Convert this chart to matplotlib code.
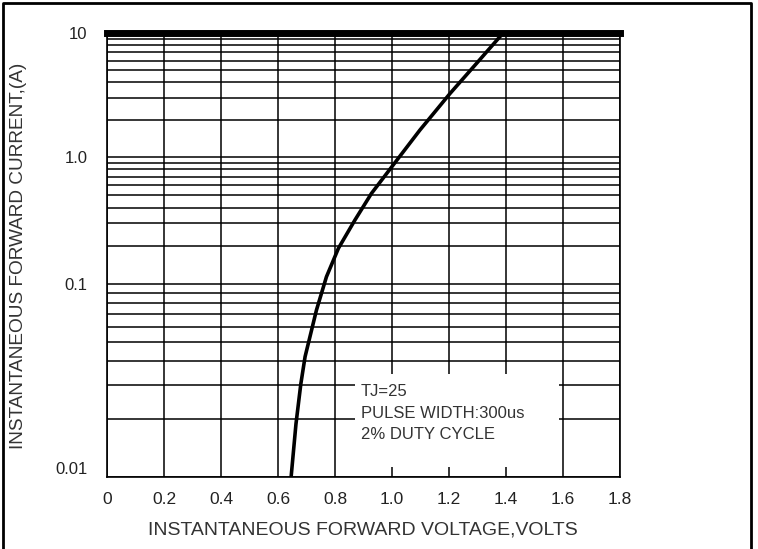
import numpy as np
import matplotlib
matplotlib.use("Agg")
import matplotlib.pyplot as plt
from matplotlib.patches import Rectangle
from matplotlib.ticker import FixedLocator, FixedFormatter, NullFormatter

# ---- data ----
voltage = [0.646, 0.663, 0.680, 0.695, 0.735, 0.770, 0.812, 0.870, 0.928,
           0.998, 1.098, 1.204, 1.297, 1.390]
current = [0.010, 0.0188, 0.0303, 0.042, 0.0733, 0.114, 0.191, 0.319, 0.517,
           0.83, 1.65, 3.26, 5.7, 10.0]

x_ticks = [0, 0.2, 0.4, 0.6, 0.8, 1.0, 1.2, 1.4, 1.6, 1.8]
x_tick_labels = ["0", "0.2", "0.4", "0.6", "0.8", "1.0", "1.2", "1.4", "1.6", "1.8"]
y_ticks = [0.01, 0.1, 1.0, 10.0]
y_tick_labels = ["0.01", "0.1", "1.0", "10"]
note_lines = ["TJ=25", "PULSE WIDTH:300us", "2% DUTY CYCLE"]

# decade heights of the printed log paper (it is not uniform)
dec_log = [-2, -1, 0, 1]
dec_pos = [0, 193, 320, 444]

def fwd(y):
    y = np.clip(np.asarray(y, dtype=float), 1e-6, None)
    return np.interp(np.log10(y), dec_log, dec_pos, left=-1e3, right=1e3)

def inv(u):
    return 10 ** np.interp(np.asarray(u, dtype=float), dec_pos, dec_log)

plt.rcParams['font.family'] = ['Liberation Sans', 'DejaVu Sans']

W, H = 758, 549
fig = plt.figure(figsize=(W / 100, H / 100), dpi=100)
ax = fig.add_axes([107 / W, (H - 477) / H, 513 / W, 444 / H])

ax.set_yscale('function', functions=(fwd, inv))
ax.set_xlim(0, 1.8)
ax.set_ylim(0.01, 10)

ax.xaxis.set_major_locator(FixedLocator(x_ticks))
ax.xaxis.set_major_formatter(FixedFormatter(x_tick_labels))
ax.yaxis.set_major_locator(FixedLocator(y_ticks))
ax.yaxis.set_major_formatter(FixedFormatter(y_tick_labels))
minor = [m * d for d in [0.01, 0.1, 1.0] for m in range(2, 10)]
ax.yaxis.set_minor_locator(FixedLocator(minor))
ax.yaxis.set_minor_formatter(NullFormatter())

ax.grid(True, which='major', axis='both', color='black', lw=1.1, zorder=1)
ax.grid(True, which='minor', axis='y', color='black', lw=1.1, zorder=1)
ax.set_axisbelow(True)

ax.tick_params(which='both', length=0)
ax.tick_params(axis='x', pad=11, labelsize=12.5, labelcolor='#222222')
ax.tick_params(axis='y', pad=14, labelsize=12, labelcolor='#222222')
# nudge the lowest y label up a little, as printed
ax.get_yticklabels()[0].set_va('bottom')

for s in ['left', 'right', 'bottom']:
    ax.spines[s].set_linewidth(1.2)
ax.spines['top'].set_linewidth(5)

# white note box covering the grid
ax.add_patch(Rectangle((0.483, 0.0225), 0.398, 0.21, transform=ax.transAxes,
                       facecolor='white', edgecolor='none', zorder=2))
for i, t in enumerate(note_lines):
    ax.text(0.495, 0.193 - i * 0.049, t, transform=ax.transAxes, fontsize=12,
            color='#333333', va='center', ha='left', zorder=3)

ax.plot(voltage, current, color='black', lw=2.6, zorder=4,
        solid_capstyle='butt', solid_joinstyle='round')

fig.text(363 / W, 1 - 530 / H, "INSTANTANEOUS FORWARD VOLTAGE,VOLTS",
         ha='center', va='center', fontsize=14, color='#333333')
fig.text(19 / W, 1 - 256 / H, "INSTANTANEOUS FORWARD CURRENT,(A)",
         ha='center', va='center', rotation=90, fontsize=13.7, color='#333333')

# page frame
fig.add_artist(plt.Line2D([2.5 / W, 2.5 / W, 750.5 / W, 750.5 / W],
                          [0, 1 - 2.5 / H, 1 - 2.5 / H, 0],
                          transform=fig.transFigure, color='black', lw=2))

fig.savefig("out.png", dpi=100, facecolor='white')
